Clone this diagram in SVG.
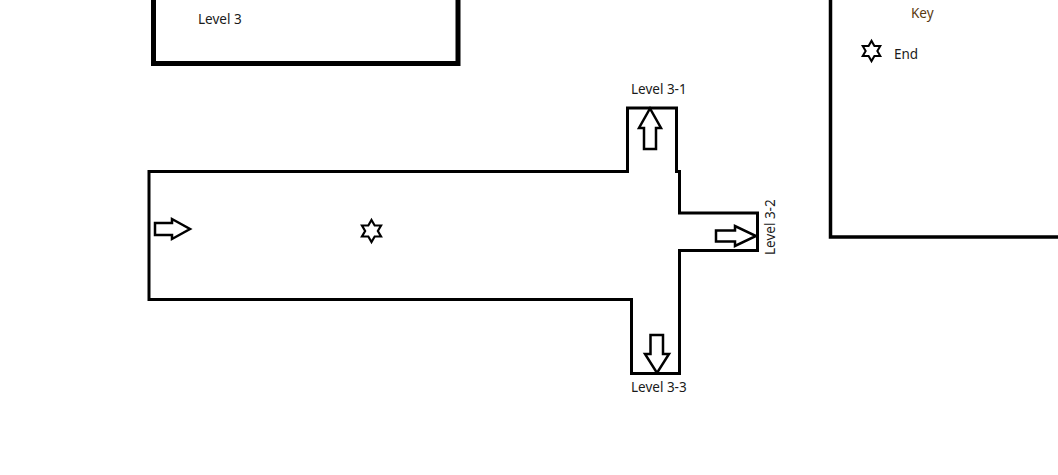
<svg xmlns="http://www.w3.org/2000/svg" width="1058" height="475" viewBox="0 0 1058 475">
<style>
.wall{fill:none;stroke:#000;stroke-width:3;stroke-linejoin:miter}
.arrow{fill:#fff;stroke:#000;stroke-width:2.5;stroke-linejoin:miter}
.star{fill:#fff;stroke:#000;stroke-width:2.2;stroke-linejoin:miter}
.lbl{font-family:"Noto Sans","Open Sans",sans-serif;font-size:13.5px;fill:#1a1a1a}
</style>
<defs>
<path id="star" d="M0,-11 L3.18,-5.5 L9.53,-5.5 L6.35,0 L9.53,5.5 L3.18,5.5 L0,11 L-3.18,5.5 L-9.53,5.5 L-6.35,0 L-9.53,-5.5 L-3.18,-5.5 Z"/>
</defs>
<rect width="1058" height="475" fill="#fff"/>
<g id="level3">
<rect x="153.5" y="-10" width="304.5" height="73.5" fill="none" stroke="#000" stroke-width="5"/>
<text class="lbl" x="198" y="24">Level 3</text>
</g>
<g id="key">
<path d="M830.5,0 V237 H1058" fill="none" stroke="#000" stroke-width="3.5"/>
<text class="lbl" x="911" y="18" style="fill:#5a3a10">Key</text>
<use href="#star" class="star" transform="translate(871.5,51) scale(0.92)"/>
<text class="lbl" x="894" y="58.5">End</text>
</g>
<g id="corridor">
<path class="wall" d="M627.5,171.5 H149 V299.5 H631.5 V373.5 H679.5 V250.5 H757.5 V213 H679.5 V171.5 H676.5 V108 H627.5 Z"/>
<use href="#star" class="star" transform="translate(371.5,231)"/>
</g>
<g id="connectors">
<path class="arrow" d="M155,223 H172 V219 L190,229 L172,239 V235 H155 Z"/>
<path class="arrow" d="M644,149 V128 H639 L650,108.5 L661,128 H656 V149 Z"/>
<path class="arrow" d="M716,230.5 H735 V226 L756,236 L735,246 V241.5 H716 Z"/>
<path class="arrow" d="M650.5,335 V354 H645 L657,373 L669,354 H663 V335 Z"/>
</g>
<g id="level3-1"><text class="lbl" x="631" y="94">Level 3-1</text></g>
<g id="level3-2"><text class="lbl" transform="translate(775,255) rotate(-90)">Level 3-2</text></g>
<g id="level3-3"><text class="lbl" x="631" y="392">Level 3-3</text></g>
</svg>
